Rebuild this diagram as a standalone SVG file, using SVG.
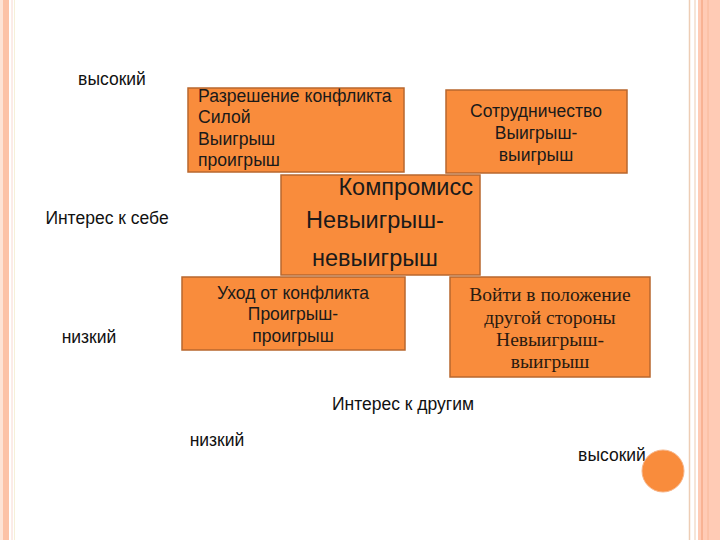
<svg xmlns="http://www.w3.org/2000/svg" width="720" height="540" viewBox="0 0 720 540">
<style>
.box{fill:#F98C3C;stroke:#B8672E;stroke-width:1.5}
.t{font-family:"Liberation Sans",Arial,sans-serif;fill:#1a1a1a}
.s{font-family:"Liberation Serif","Times New Roman",serif;fill:#2a1a10}
.lbl{font-family:"Liberation Sans",Arial,sans-serif;fill:#111;font-size:17.5px}
</style>
<rect width="720" height="540" fill="#ffffff"/>
<g id="frame">
<rect x="0" y="0" width="3" height="540" fill="#FDE3D5"/>
<rect x="3" y="0" width="6" height="540" fill="#FCC2A6"/>
<line x1="12" y1="0" x2="12" y2="540" stroke="#F8D8D0" stroke-width="1"/>
<line x1="14.5" y1="0" x2="14.5" y2="540" stroke="#F6F0D8" stroke-width="1"/>
<line x1="689.5" y1="0" x2="689.5" y2="540" stroke="#EDCDB5" stroke-width="1.5"/>
<line x1="695" y1="0" x2="695" y2="540" stroke="#F3DCCB" stroke-width="1.5"/>
<rect x="698" y="0" width="22" height="540" fill="#FFCBB5"/>
<line x1="702" y1="0" x2="702" y2="540" stroke="#F29A72" stroke-width="1"/>
<line x1="708" y1="0" x2="708" y2="540" stroke="#F8B898" stroke-width="1"/>
</g>
<g id="labels">
<text class="lbl" x="112" y="85" text-anchor="middle">высокий</text>
<text class="lbl" x="107" y="224" text-anchor="middle">Интерес к себе</text>
<text class="lbl" x="89" y="343" text-anchor="middle">низкий</text>
<text class="lbl" x="403" y="410" text-anchor="middle">Интерес к другим</text>
<text class="lbl" x="217" y="446" text-anchor="middle">низкий</text>
<text class="lbl" x="612" y="461" text-anchor="middle">высокий</text>
</g>
<g id="force">
<rect class="box" x="188" y="88" width="216" height="84"/>
<text class="t" font-size="17.6" x="198" y="102">Разрешение конфликта</text>
<text class="t" font-size="17.6" x="198" y="123">Силой</text>
<text class="t" font-size="17.6" x="198" y="145">Выигрыш</text>
<text class="t" font-size="17.6" x="198" y="166">проигрыш</text>
</g>
<g id="cooperation">
<rect class="box" x="446" y="90" width="181" height="83"/>
<text class="t" font-size="17.5" x="536" y="117" text-anchor="middle">Сотрудничество</text>
<text class="t" font-size="17.5" x="536" y="139" text-anchor="middle">Выигрыш-</text>
<text class="t" font-size="17.5" x="536" y="161" text-anchor="middle">выигрыш</text>
</g>
<g id="compromise">
<rect class="box" x="281" y="175" width="199" height="100"/>
<text class="t" font-size="23.5" x="473" y="195" text-anchor="end">Компромисс</text>
<text class="t" font-size="23.5" x="375" y="228" text-anchor="middle">Невыигрыш-</text>
<text class="t" font-size="23.5" x="375" y="266" text-anchor="middle">невыигрыш</text>
</g>
<g id="avoid">
<rect class="box" x="182" y="277" width="223" height="73"/>
<text class="t" font-size="17.5" x="293" y="299" text-anchor="middle">Уход от конфликта</text>
<text class="t" font-size="17.5" x="293" y="320" text-anchor="middle">Проигрыш-</text>
<text class="t" font-size="17.5" x="293" y="342" text-anchor="middle">проигрыш</text>
</g>
<g id="accommodate">
<rect class="box" x="450" y="277" width="200" height="100"/>
<text class="s" font-size="19.5" x="550" y="301" text-anchor="middle">Войти в положение</text>
<text class="s" font-size="19.5" x="550" y="324" text-anchor="middle">другой стороны</text>
<text class="s" font-size="19.5" x="550" y="346" text-anchor="middle">Невыигрыш-</text>
<text class="s" font-size="19.5" x="550" y="368" text-anchor="middle">выигрыш</text>
</g>
<g id="connectors"></g>
<circle id="dot" cx="663" cy="471" r="21" fill="#F98C3C" stroke="#F7B487" stroke-width="1"/>
</svg>
